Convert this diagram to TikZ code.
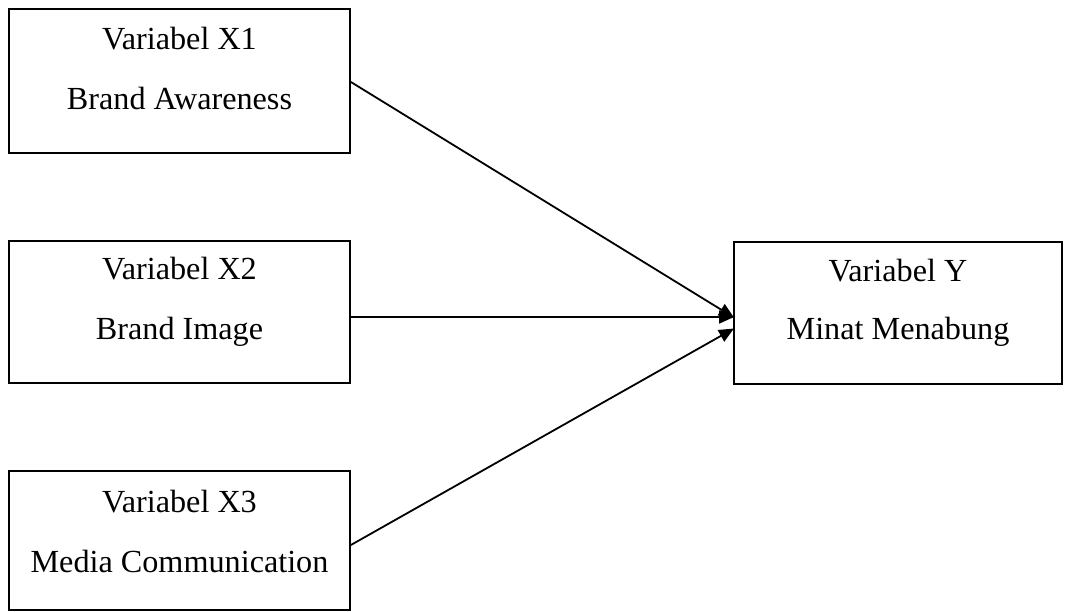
\documentclass[tikz,border=0pt]{standalone}
\usepackage{fontspec}
\setmainfont{Liberation Serif}
\usetikzlibrary{arrows.meta,calc}
\begin{document}
\begin{tikzpicture}[x=1pt,y=-1pt,
  vbox/.style={draw=black,line width=1.8pt,rectangle,inner sep=0pt},
  lbl/.style={font=\fontsize{32.2}{36}\selectfont,anchor=base,inner sep=0pt},
  conn/.style={line width=1.8pt,-{Triangle[length=15pt,width=13pt]},shorten >=-1pt}]
\useasboundingbox (0,0) rectangle (1066,612);
% boxes
\node[vbox,minimum width=341pt,minimum height=144pt] (x1) at (179.5,81) {};
\node[vbox,minimum width=341pt,minimum height=142pt] (x2) at (179.5,312) {};
\node[vbox,minimum width=341pt,minimum height=139pt] (x3) at (179.5,540.5) {};
\node[vbox,minimum width=328pt,minimum height=142pt] (y) at (898,313) {};
% labels
\node[lbl] (x1a) at (179.5,50) {Variabel X1};
\node[lbl] (x1b) at (179.5,110) {Brand Awareness};
\node[lbl] (x2a) at (179.5,280) {Variabel X2};
\node[lbl] (x2b) at (179.5,340) {Brand Image};
\node[lbl] (x3a) at (179.5,512) {Variabel X3};
\node[lbl] (x3b) at (179.5,572) {Media Communication};
\node[lbl] (ya) at (898,282) {Variabel Y};
\node[lbl] (yb) at (898,340) {Minat Menabung};
% connector endpoints
\coordinate (s1) at ($(x1.east)+(0,1)$);
\coordinate (s2) at ($(x2.east)+(0,5)$);
\coordinate (s3) at ($(x3.east)+(0,4.5)$);
\coordinate (e1) at ($(y.west)+(0,4)$);
\coordinate (e2) at ($(y.west)+(0,4)$);
\coordinate (e3) at ($(y.west)+(0,16)$);
\draw[conn] (s1) -- (e1);
\draw[conn] (s2) -- (e2);
\draw[conn] (s3) -- (e3);
\end{tikzpicture}
\end{document}
